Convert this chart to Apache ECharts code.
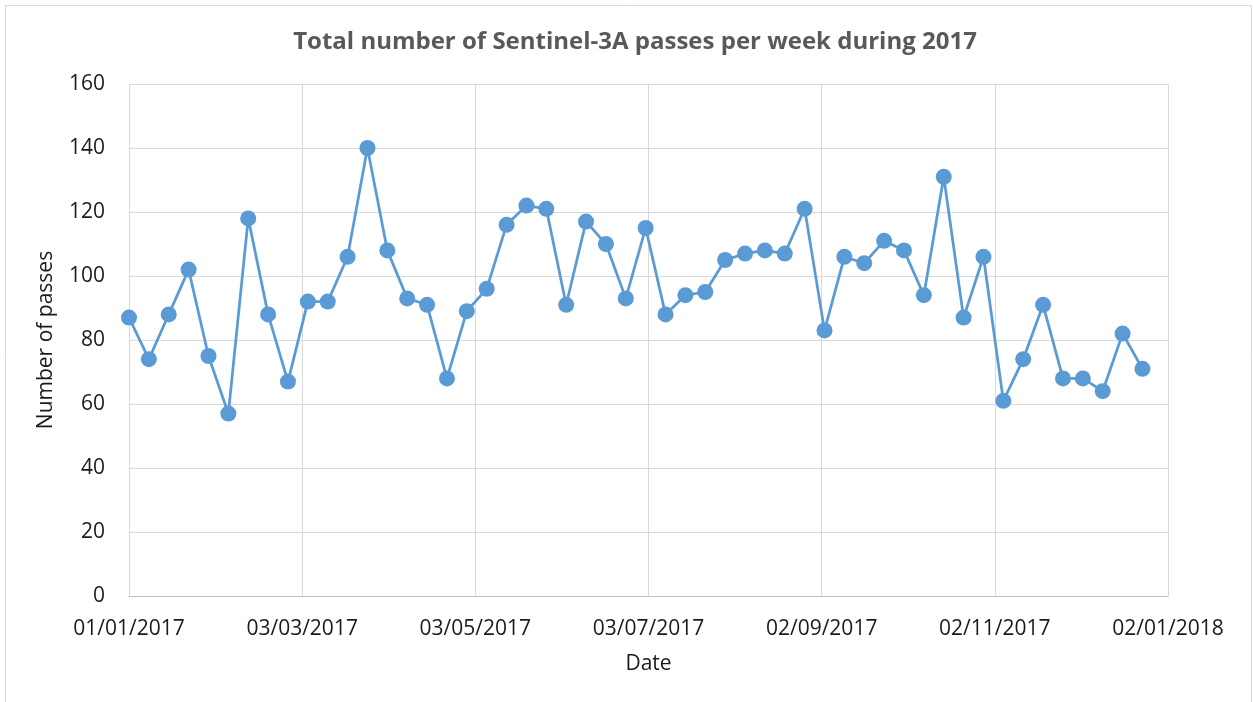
<!DOCTYPE html>
<html>
<head>
<meta charset="utf-8">
<script src="https://cdn.jsdelivr.net/npm/echarts@6/dist/echarts.min.js"></script>
<style>
html,body{margin:0;padding:0;background:#fff;}
#chart{width:1253px;height:702px;}
</style>
</head>
<body>
<div id="chart"></div>
<script>
const startDate = '2017-01-01';
const weekDates = [
  '2017-01-01','2017-01-08','2017-01-15','2017-01-22','2017-01-29',
  '2017-02-05','2017-02-12','2017-02-19','2017-02-26',
  '2017-03-05','2017-03-12','2017-03-19','2017-03-26',
  '2017-04-02','2017-04-09','2017-04-16','2017-04-23','2017-04-30',
  '2017-05-07','2017-05-14','2017-05-21','2017-05-28',
  '2017-06-04','2017-06-11','2017-06-18','2017-06-25',
  '2017-07-02','2017-07-09','2017-07-16','2017-07-23','2017-07-30',
  '2017-08-06','2017-08-13','2017-08-20','2017-08-27',
  '2017-09-03','2017-09-10','2017-09-17','2017-09-24',
  '2017-10-01','2017-10-08','2017-10-15','2017-10-22','2017-10-29',
  '2017-11-05','2017-11-12','2017-11-19','2017-11-26',
  '2017-12-03','2017-12-10','2017-12-17','2017-12-24'
];
const passes = [
  87, 74, 88, 102, 75, 57, 118, 88, 67, 92, 92, 106, 140,
  108, 93, 91, 68, 89, 96, 116, 122, 121, 91, 117, 110, 93,
  115, 88, 94, 95, 105, 107, 108, 107, 121, 83, 106, 104, 111,
  108, 94, 131, 87, 106, 61, 74, 91, 68, 68, 64, 82, 71
];
const xTickLabels = ['01/01/2017','03/03/2017','03/05/2017','03/07/2017','02/09/2017','02/11/2017','02/01/2018'];
const yTickLabels = ['0','20','40','60','80','100','120','140','160'];

const DAY = 86400000;
const t0 = Date.parse(startDate + 'T00:00:00Z');
const seriesData = weekDates.map((d, i) => [(Date.parse(d + 'T00:00:00Z') - t0) / DAY, passes[i]]);
const X_STEP = 61;

const chart = echarts.init(document.getElementById('chart'), null, {renderer: 'canvas'});
const font = '"Open Sans", "Noto Sans", sans-serif';
chart.setOption({
  animation: false,
  backgroundColor: '#ffffff',
  title: {
    text: 'Total number of Sentinel-3A passes per week during 2017',
    left: 630, top: 25, textAlign: 'center',
    textStyle: {fontFamily: font, fontSize: 24, fontWeight: 'bold', color: '#595959'}
  },
  graphic: [{
    type: 'rect', shape: {x: 5.5, y: 5.5, width: 1246, height: 710},
    style: {fill: 'none', stroke: '#d9d9d9', lineWidth: 1}, silent: true
  }],
  grid: {left: 129, right: 85, top: 84, bottom: 106},
  xAxis: {
    type: 'value', min: 0, max: X_STEP * (xTickLabels.length - 1), interval: X_STEP,
    name: 'Date', nameLocation: 'middle', nameGap: 58,
    nameTextStyle: {fontFamily: font, fontSize: 21, color: '#1a1a1a'},
    axisLine: {show: true, lineStyle: {color: '#bfbfbf', width: 1}},
    axisTick: {show: false},
    axisLabel: {
      fontFamily: font, fontSize: 21, color: '#1a1a1a', margin: 23,
      formatter: v => xTickLabels[Math.round(v / X_STEP)] || ''
    },
    splitLine: {show: true, lineStyle: {color: '#d9d9d9', width: 1}}
  },
  yAxis: {
    type: 'value', min: 0, max: 160, interval: 20,
    name: 'Number of passes', nameLocation: 'middle', nameGap: 72, nameRotate: 90,
    nameTextStyle: {fontFamily: font, fontSize: 21, color: '#1a1a1a'},
    axisLine: {show: false},
    axisTick: {show: false},
    axisLabel: {
      fontFamily: font, fontSize: 21, color: '#1a1a1a', margin: 24,
      formatter: v => yTickLabels[Math.round(v / 20)]
    },
    splitLine: {show: true, lineStyle: {color: '#d9d9d9', width: 1}}
  },
  series: [{
    type: 'line',
    data: seriesData,
    symbol: 'circle', symbolSize: 16,
    itemStyle: {color: '#5b9bd5'},
    lineStyle: {color: '#5b9bd5', width: 2.75}
  }]
});
</script>
</body>
</html>
